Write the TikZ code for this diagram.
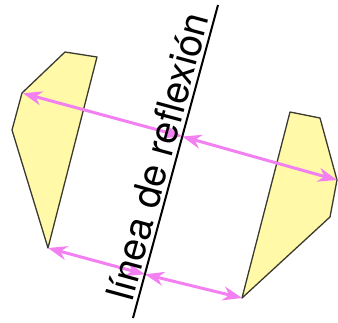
\documentclass[tikz,border=0pt]{standalone}
\usepackage{fontspec}
\setmainfont{TeX Gyre Heros}
\usetikzlibrary{calc,arrows.meta}
\definecolor{amarillo}{HTML}{FFF9A8}
\definecolor{rosa}{HTML}{F280F0}
\definecolor{borde}{HTML}{3A3A30}

\begin{document}
\begin{tikzpicture}[x=1pt,y=-1pt,
    figura/.style={fill=amarillo,draw=borde,line width=1.3pt,line join=round},
    flecha/.style={draw=rosa,line width=3pt,{Stealth[length=19pt,width=14pt,inset=6pt]}-{Stealth[length=19pt,width=14pt,inset=6pt]}}]
  \useasboundingbox (0,0) rectangle (338,322);
  % linea de reflexion
  \coordinate (l_1) at (218,5);
  \coordinate (l_2) at (133,318);
  % figura izquierda
  \coordinate (a_1) at (65,52);
  \coordinate (a_2) at (97,57);
  \coordinate (a_3) at (48,248);
  \coordinate (a_4) at (12,130);
  \coordinate (a_5) at (22,93);
  % figura derecha
  \coordinate (b_1) at (290,112);
  \coordinate (b_2) at (320,118);
  \coordinate (b_3) at (337,180);
  \coordinate (b_4) at (330,217);
  \coordinate (b_5) at (242,298);
  \draw[figura] (a_1) -- (a_2) -- (a_3) -- (a_4) -- (a_5) -- cycle;
  \draw[figura] (b_1) -- (b_2) -- (b_3) -- (b_4) -- (b_5) -- cycle;
  % pies de las perpendiculares
  \coordinate (p_1) at ($(l_1)!(a_5)!(l_2)$);
  \coordinate (p_2) at ($(l_1)!(a_3)!(l_2)$);
  \draw[flecha,shorten <=1pt] (a_5) -- (p_1);
  \draw[flecha] (p_1) -- (b_3);
  \draw[flecha] (a_3) -- (p_2);
  \draw[flecha] (p_2) -- (b_5);
  \draw[line width=2pt] (l_2) -- (l_1)
    node[pos=0.5,sloped,above=0pt,font=\fontsize{39}{39}\selectfont] (rotulo) {línea de reflexión};
\end{tikzpicture}
\end{document}
